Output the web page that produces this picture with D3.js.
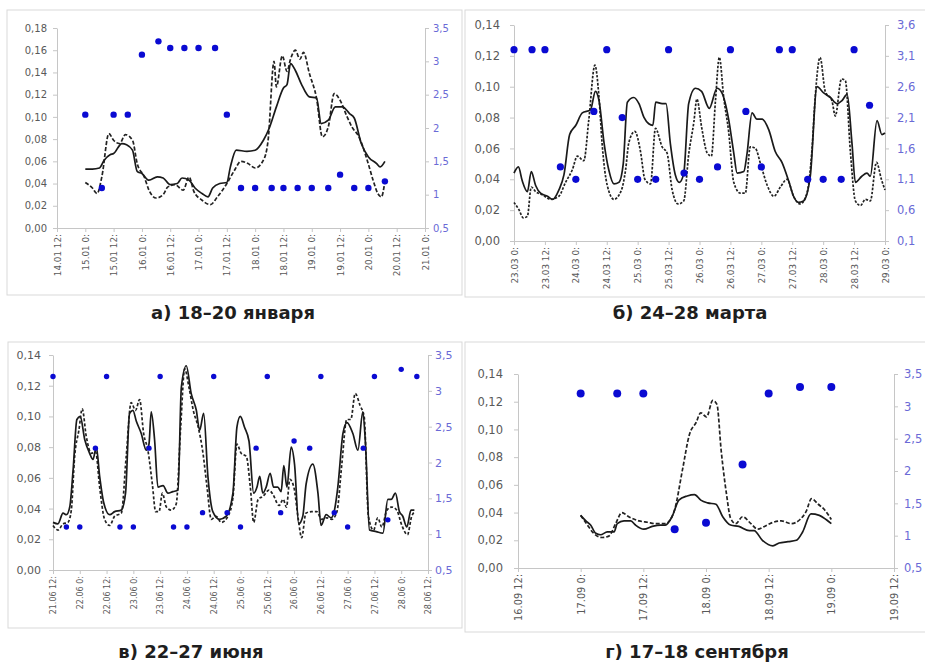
<!DOCTYPE html>
<meta charset="utf-8">
<script src="https://d3js.org/d3.v7.min.js"></script>
<style>
  body { margin: 0; background: #fff; }
  text { font-family: "DejaVu Sans", sans-serif; }
</style>
<div id="chart"></div>
<script>
// ---------- а) январь: часы от 15.01 0:00 ----------
var janTicks = ["14.01 12:", "15.01 0:", "15.01 12:", "16.01 0:", "16.01 12:", "17.01 0:", "17.01 12:",
  "18.01 0:", "18.01 12:", "19.01 0:", "19.01 12:", "20.01 0:", "20.01 12:", "21.01 0:"];
var janLeft = [0, 0.02, 0.04, 0.06, 0.08, 0.10, 0.12, 0.14, 0.16, 0.18];
var janRight = [0.5, 1, 1.5, 2, 2.5, 3, 3.5];
var janSolid = [[0,.053],[3,.053],[6,.054],[8,.061],[10.5,.066],[12,.067],[15.5,.076],[17.5,.075],[20,.070],
  [22,.051],[24,.049],[27,.043],[30.5,.046],[33,.045],[36,.039],[39,.040],[41,.045],[44,.043],[46.5,.036],
  [49.5,.031],[52,.028],[54,.036],[57,.040],[60,.041],[61.5,.055],[64,.070],[68.5,.069],[72,.070],[75.5,.079],
  [78,.090],[81,.109],[84,.126],[85.5,.129],[87,.148],[89,.142],[91.5,.130],[95,.118],[98,.117],[100,.094],
  [103,.097],[106,.109],[109,.109],[112,.103],[114,.099],[117,.076],[120,.064],[123.5,.058],[125,.055],[127,.060]];
var janDash = [[0,.041],[3,.036],[5,.031],[7,.046],[10,.085],[12,.079],[14.5,.076],[17,.084],[20,.079],
  [22,.058],[25,.046],[27,.034],[30,.027],[33,.030],[35,.037],[38,.039],[41.5,.034],[44,.046],[46,.033],
  [49.5,.025],[53,.021],[56,.028],[60,.040],[63,.051],[66,.060],[69,.058],[72,.054],[75.5,.061],[77.5,.079],
  [80,.150],[81,.127],[83.5,.155],[85.5,.141],[87,.152],[89,.160],[91,.152],[92.5,.158],[95,.139],[98,.117],
  [100.5,.082],[103,.091],[105.5,.121],[108,.115],[111,.100],[113,.091],[116,.082],[119.5,.061],[122,.043],
  [124,.031],[125.5,.028],[127,.042]];
var janWind = [[0,2.2],[7,1.1],[12,2.2],[18,2.2],[24,3.1],[31,3.3],[36,3.2],[42,3.2],[48,3.2],[55,3.2],
  [60,2.2],[66,1.1],[72,1.1],[79,1.1],[84,1.1],[90,1.1],[96,1.1],[103,1.1],[108,1.3],[114,1.1],[120,1.1],[127,1.2]];

// ---------- б) март: часы от 23.03 0:00 ----------
var marTicks = ["23.03 0:", "23.03 12:", "24.03 0:", "24.03 12:", "25.03 0:", "25.03 12:", "26.03 0:",
  "26.03 12:", "27.03 0:", "27.03 12:", "28.03 0:", "28.03 12:", "29.03 0:"];
var marLeft = [0, 0.02, 0.04, 0.06, 0.08, 0.10, 0.12, 0.14];
var marRight = [0.1, 0.6, 1.1, 1.6, 2.1, 2.6, 3.1, 3.6];
var marSolid = [[0,.044],[1.7,.048],[3.2,.039],[5.2,.032],[6.7,.045],[8.4,.036],[10.3,.031],[13,.029],[15,.027],
  [17.4,.033],[19.4,.043],[21.6,.069],[24,.075],[26.5,.083],[29.7,.085],[31.6,.097],[33,.091],[35,.063],
  [36.8,.046],[38.8,.037],[40.7,.038],[42.4,.050],[44,.090],[46.5,.093],[48.5,.089],[50.5,.080],[52.3,.076],
  [53.9,.075],[55,.090],[57.5,.089],[59,.089],[60.7,.063],[62.6,.043],[64.2,.038],[65.9,.044],[67.8,.089],
  [70.4,.099],[72.8,.097],[75.8,.086],[78.8,.099],[80.7,.096],[83.3,.079],[85.3,.057],[86.6,.044],[89.2,.045],
  [90.4,.056],[92.4,.083],[94.3,.079],[96.3,.079],[98.9,.072],[101.4,.058],[104,.051],[106.6,.039],[108.5,.029],
  [110.4,.025],[112.4,.026],[115,.042],[117.6,.100],[120.2,.096],[122.8,.093],[125.4,.089],[127.3,.091],
  [129.3,.095],[131.2,.063],[132.5,.038],[135,.042],[137,.044],[138.3,.042],[140.9,.078],[142.8,.069],[144,.070]];
var marDash = [[0,.025],[2,.020],[3.6,.015],[5.2,.016],[6.7,.035],[8.4,.032],[11,.030],[14.2,.027],[17.4,.029],
  [20,.038],[22.6,.046],[24.6,.055],[27.1,.052],[29,.078],[31.4,.114],[33,.093],[34.2,.063],[36.2,.036],
  [38.8,.027],[41.7,.033],[43.3,.046],[44.6,.064],[46.9,.071],[49.1,.058],[50.8,.040],[53,.037],[54.9,.073],
  [57.5,.061],[59.4,.057],[61.4,.033],[63.7,.024],[65.9,.026],[67.8,.056],[69.8,.077],[71,.092],[72.8,.074],
  [75,.057],[76.6,.055],[78.2,.091],[79.7,.119],[81.4,.093],[83.3,.071],[85.3,.038],[87.9,.031],[89.8,.031],
  [91.7,.061],[93.7,.060],[95.7,.050],[98.3,.036],[100.9,.029],[103.4,.035],[106,.040],[108.5,.029],
  [111.1,.024],[113.7,.031],[115.6,.058],[116.9,.093],[118.8,.119],[120.8,.097],[123.4,.091],[124.7,.081],
  [127.1,.105],[128.6,.104],[130.6,.057],[132.5,.026],[134.5,.023],[136.4,.027],[138.3,.026],[140.7,.051],
  [142.6,.040],[144,.033]];
var marWind = [[0,3.2],[7,3.2],[12,3.2],[18,1.3],[24,1.1],[31,2.2],[36,3.2],[42,2.1],[48,1.1],[55,1.1],
  [60,3.2],[66,1.2],[72,1.1],[79,1.3],[84,3.2],[90,2.2],[96,1.3],[103,3.2],[108,3.2],[114,1.1],[120,1.1],
  [127,1.1],[132,3.2],[138,2.3]];

// ---------- в) июнь: часы от 21.06 12:00 ----------
var julTicks = ["21.06 12:", "22.06 0:", "22.06 12:", "23.06 0:", "23.06 12:", "24.06 0:", "24.06 12:",
  "25.06 0:", "25.06 12:", "26.06 0:", "26.06 12:", "27.06 0:", "27.06 12:", "28.06 0:", "28.06 12:"];
var julLeft = [0, 0.02, 0.04, 0.06, 0.08, 0.10, 0.12, 0.14];
var julRight = [0.5, 1, 1.5, 2, 2.5, 3, 3.5];
var julSolid = [[0,.031],[2.2,.030],[4.5,.037],[6,.036],[7.5,.041],[9,.065],[10.7,.098],[12.2,.100],[14.2,.085],
  [16.4,.076],[17.9,.072],[19.4,.080],[20.9,.061],[22.7,.044],[25.4,.036],[27.6,.038],[30.6,.039],[32.5,.050],
  [34.3,.102],[35.8,.104],[37.3,.097],[39.5,.089],[41.8,.078],[43,.082],[44,.103],[45.5,.085],[47,.054],
  [49.3,.055],[51.5,.050],[53.7,.051],[56,.052],[57.5,.119],[59.7,.133],[61.9,.115],[64.2,.104],[65.7,.091],
  [67.5,.102],[69.4,.061],[71.6,.038],[74.6,.033],[77.6,.035],[80.6,.050],[82.4,.093],[83.9,.100],[85.8,.093],
  [87.8,.084],[89.9,.050],[91.4,.054],[92.6,.061],[94,.050],[95.5,.054],[97.3,.063],[98.8,.054],[100.7,.054],
  [102.2,.051],[103.4,.068],[104.8,.054],[106.7,.080],[108.2,.069],[110.1,.030],[111.9,.035],[113.4,.056],
  [116.4,.069],[118.7,.050],[120.1,.029],[122.4,.036],[124.6,.034],[126.1,.039],[127.6,.054],[129.9,.089],
  [131.7,.096],[134.3,.089],[136.6,.078],[138.8,.103],[140,.082],[141.8,.026],[144.8,.025],[147.8,.024],
  [150,.046],[151.5,.046],[153.4,.050],[155.2,.038],[156.7,.035],[158.5,.028],[160.4,.039],[161.9,.039]];
var julDash = [[0,.029],[2.2,.026],[4.5,.030],[6.7,.031],[8.2,.039],[9.7,.074],[11.6,.091],[13.1,.105],
  [14.9,.087],[17.2,.076],[19.1,.077],[20.9,.054],[23.1,.033],[25.4,.029],[27.6,.035],[30.6,.037],[32.8,.074],
  [35,.109],[37,.104],[38.8,.111],[40.6,.089],[42.5,.078],[44.5,.056],[46,.038],[47.5,.038],[49,.050],
  [50.8,.041],[53,.039],[55.2,.043],[57.2,.093],[59,.131],[60.9,.119],[63,.103],[64.9,.094],[67.2,.076],
  [69,.054],[70.9,.033],[73.1,.035],[75.4,.031],[78.4,.035],[80.6,.047],[82.4,.082],[84.3,.076],[86.6,.074],
  [88.4,.054],[89.9,.031],[91.9,.046],[94.1,.048],[96.8,.052],[98.6,.049],[101.3,.042],[103.1,.046],
  [104.6,.041],[106.1,.059],[107.9,.054],[109.9,.033],[111.4,.021],[113.3,.037],[115.9,.038],[118.1,.038],
  [120.4,.033],[122.6,.034],[124.9,.033],[127.2,.038],[129.4,.069],[131.6,.098],[133.4,.098],[135.4,.115],
  [137.6,.107],[139.4,.100],[141.3,.035],[143.6,.026],[145.5,.034],[147.3,.028],[149.6,.039],[151.8,.041],
  [154,.039],[156.3,.029],[158.8,.023],[160.7,.035],[162.2,.038]];
var julWind = [[0,3.2],[6,1.1],[12,1.1],[19,2.2],[24,3.2],[30,1.1],[36,1.1],[43,2.2],[48,3.2],[54,1.1],
  [60,1.1],[67,1.3],[72,3.2],[78,1.3],[84,1.1],[91,2.2],[96,3.2],[102,1.3],[108,2.3],[115,2.2],[120,3.2],
  [126,1.3],[132,1.1],[139,2.2],[144,3.2],[150,1.2],[156,3.3],[163,3.2]];

// ---------- г) сентябрь: часы от 16.09 12:00 ----------
var sepTicks = ["16.09 12:", "17.09 0:", "17.09 12:", "18.09 0:", "18.09 12:", "19.09 0:", "19.09 12:"];
var sepLeft = [0, 0.02, 0.04, 0.06, 0.08, 0.10, 0.12, 0.14];
var sepRight = [0.5, 1, 1.5, 2, 2.5, 3, 3.5];
var sepSolid = [[12,.038],[13,.034],[13.9,.031],[14.9,.025],[15.8,.024],[17.1,.026],[18.4,.026],[19,.032],
  [20.3,.034],[21.6,.034],[22.5,.031],[24.1,.028],[25.7,.030],[27.3,.031],[28.2,.031],[29.5,.037],[30.8,.049],
  [32.4,.052],[33.8,.053],[35,.049],[36.3,.047],[37.9,.046],[39.2,.037],[40.7,.031],[42.3,.030],[44.3,.027],
  [45.2,.027],[46.8,.020],[48.8,.016],[50,.018],[51.7,.019],[53.3,.020],[54.5,.026],[56.1,.039],[57.7,.038],
  [59,.035],[60,.032]];
var sepDash = [[12,.038],[13.3,.031],[14.5,.025],[16.1,.022],[17.4,.023],[18.7,.032],[19.9,.040],[21.2,.037],
  [23.2,.034],[24.8,.033],[26.4,.032],[28.2,.032],[29.9,.041],[31.5,.071],[32.8,.096],[34.1,.105],[35,.112],
  [36.1,.109],[37.3,.121],[38.1,.118],[38.9,.085],[39.9,.054],[40.7,.036],[41.7,.032],[43,.037],[44.6,.032],
  [45.9,.028],[47.2,.030],[48.2,.032],[50.4,.034],[52.3,.032],[54,.035],[55.2,.041],[56.2,.050],[57.5,.046],
  [58.7,.042],[60,.035]];
var sepWind = [[12,3.2],[19,3.2],[24,3.2],[30,1.1],[36,1.2],[43,2.1],[48,3.2],[54,3.3],[60,3.3]];

var svg = d3.select("#chart").append("svg")
  .attr("width", 925)
  .attr("height", 663)
  .style("background", "#fff");

var fmtLeft = function (d) { return d.toFixed(2).replace(".", ","); };
var fmtRight = function (d) { return String(Math.round(d * 10) / 10).replace(".", ","); };

var panels = [
  { frame: [7, 10, 455, 285], left: 57, right: 425, top: 28, bottom: 228, xDom: [-12, 144],
    yMax: 0.18, rDom: [0.5, 3.5], leftTicks: janLeft, rightTicks: janRight, labels: janTicks,
    solid: janSolid, dashed: janDash, wind: janWind, fs: 10, xfs: 8.8, r: 3.2, dash: "4,2",
    padL: 6, padR: 4, caption: "а) 18–20 января", capX: 233, capY: 319 },
  { frame: [465, 10, 470, 287], left: 514, right: 885, top: 25, bottom: 241, xDom: [0, 144],
    yMax: 0.14, rDom: [0.1, 3.6], leftTicks: marLeft, rightTicks: marRight, labels: marTicks,
    solid: marSolid, dashed: marDash, wind: marWind, fs: 11.5, xfs: 8.8, r: 3.6, dash: "2.5,1.5",
    padL: 10, padR: 8, caption: "б) 24–28 марта", capX: 690, capY: 319 },
  { frame: [8, 342, 454, 286], left: 53, right: 428, top: 355, bottom: 570, xDom: [0, 168],
    yMax: 0.14, rDom: [0.5, 3.5], leftTicks: julLeft, rightTicks: julRight, labels: julTicks,
    solid: julSolid, dashed: julDash, wind: julWind, fs: 11, xfs: 8, r: 2.7, dash: "3,2",
    padL: 8, padR: 3, caption: "в) 22–27 июня", capX: 191, capY: 658 },
  { frame: [465, 342, 470, 290], left: 518, right: 894, top: 374, bottom: 568, xDom: [0, 72],
    yMax: 0.14, rDom: [0.5, 3.5], leftTicks: sepLeft, rightTicks: sepRight, labels: sepTicks,
    solid: sepSolid, dashed: sepDash, wind: sepWind, fs: 11.5, xfs: 9.8, r: 4, dash: "4,2",
    padL: 11, padR: 6, caption: "г) 17–18 сентября", capX: 697, capY: 658 }
];

panels.forEach(drawPanel);

function drawPanel(p) {
  var g = svg.append("g");

  // рамка
  g.append("rect")
    .attr("x", p.frame[0]).attr("y", p.frame[1])
    .attr("width", p.frame[2]).attr("height", p.frame[3])
    .attr("fill", "none").attr("stroke", "#d9d9d9");

  var x = d3.scaleLinear().domain(p.xDom).range([p.left, p.right]);
  var y = d3.scaleLinear().domain([0, p.yMax]).range([p.bottom, p.top]);
  var y2 = d3.scaleLinear().domain(p.rDom).range([p.bottom, p.top]);

  var xVals = d3.range(p.xDom[0], p.xDom[1] + 1, 12);

  // левая ось
  var ga = g.append("g")
    .attr("transform", "translate(" + p.left + ",0)")
    .call(d3.axisLeft(y).tickValues(p.leftTicks).tickFormat(fmtLeft).tickSizeInner(4).tickSizeOuter(0).tickPadding(p.padL));
  ga.selectAll("text").style("font-size", p.fs + "px").attr("fill", "#595959");

  // правая ось
  var gr = g.append("g")
    .attr("transform", "translate(" + p.right + ",0)")
    .call(d3.axisRight(y2).tickValues(p.rightTicks).tickFormat(fmtRight).tickSizeInner(4).tickSizeOuter(0).tickPadding(p.padR));
  gr.selectAll("text").style("font-size", p.fs + "px").attr("fill", "#6a6ad6");

  // нижняя ось
  var gx = g.append("g")
    .attr("transform", "translate(0," + p.bottom + ")")
    .call(d3.axisBottom(x).tickValues(xVals).tickFormat(function (d, i) { return p.labels[i]; })
      .tickSizeInner(4).tickSizeOuter(0));
  gx.selectAll("text")
    .attr("transform", "rotate(-90)")
    .attr("x", -6).attr("y", 0).attr("dy", "0.35em")
    .style("text-anchor", "end")
    .style("font-size", p.xfs + "px")
    .attr("fill", "#595959");

  [ga, gr, gx].forEach(function (a) {
    a.select(".domain").attr("stroke", "#c6c6c6");
    a.selectAll(".tick line").attr("stroke", "#c6c6c6");
  });

  var line = d3.line()
    .x(function (d) { return x(d[0]); })
    .y(function (d) { return y(d[1]); })
    .curve(d3.curveMonotoneX);

  g.append("path").datum(p.dashed)
    .attr("d", line)
    .attr("fill", "none").attr("stroke", "#222")
    .attr("stroke-width", 1.7).attr("stroke-dasharray", p.dash);

  g.append("path").datum(p.solid)
    .attr("d", line)
    .attr("fill", "none").attr("stroke", "#1a1a1a")
    .attr("stroke-width", 1.7);

  g.selectAll("circle.w").data(p.wind).enter().append("circle")
    .attr("class", "w")
    .attr("cx", function (d) { return x(d[0]); })
    .attr("cy", function (d) { return y2(d[1]); })
    .attr("r", p.r)
    .attr("fill", "#0a0ad2");

  svg.append("text")
    .attr("x", p.capX).attr("y", p.capY)
    .attr("text-anchor", "middle")
    .style("font-size", "18px").style("font-weight", "bold")
    .attr("fill", "#1e1e1e")
    .text(p.caption);
}
</script>
